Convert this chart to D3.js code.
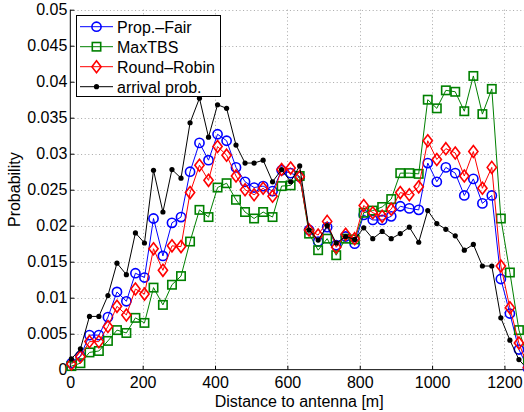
<!DOCTYPE html>
<html>
<head>
<meta charset="utf-8">
<script src="https://cdn.jsdelivr.net/npm/d3@7"></script>
<style>
  html, body { margin: 0; padding: 0; background: #fff; }
  svg { display: block; font-family: "Liberation Sans", Arial, sans-serif; }
</style>
</head>
<body>
<svg id="chart" width="524" height="412"></svg>
<script>
// ---- data ----
const distances = [3,28,53,79,104,129,155,180,205,230,256,281,306,331,357,382,407,432,458,483,
  508,533,559,584,609,634,660,685,710,735,761,786,811,836,862,887,912,937,963,988,
  1013,1038,1064,1089,1114,1139,1165,1190,1215,1240,1265];

const propFair = [0.0009,0.0019,0.0048,0.0048,0.0073,0.0108,0.0095,0.0134,0.0128,0.0210,
  0.0158,0.0204,0.0212,0.0275,0.0315,0.0291,0.0327,0.0318,0.0281,0.0261,
  0.0253,0.0255,0.0248,0.0277,0.0273,0.0268,0.0194,0.0178,0.0198,0.0173,
  0.0185,0.0175,0.0215,0.0208,0.0208,0.0213,0.0227,0.0224,0.0222,0.0287,
  0.0261,0.0281,0.0273,0.0242,0.0265,0.0231,0.0242,0.0126,0.0078,0.0028,0.0002];

const maxTBS = [0.0005,0.0009,0.0024,0.0026,0.0040,0.0055,0.0051,0.0072,0.0065,0.0114,
  0.0090,0.0118,0.0130,0.0178,0.0222,0.0212,0.0253,0.0259,0.0236,0.0219,
  0.0210,0.0219,0.0212,0.0255,0.0256,0.0269,0.0189,0.0166,0.0182,0.0159,
  0.0182,0.0181,0.0218,0.0221,0.0226,0.0237,0.0273,0.0273,0.0272,0.0375,
  0.0363,0.0388,0.0386,0.0359,0.0408,0.0355,0.0390,0.0210,0.0135,0.0055,0.0015];

const roundRobin = [0.0008,0.0018,0.0039,0.0039,0.0060,0.0088,0.0076,0.0112,0.0105,0.0168,
  0.0138,0.0172,0.0171,0.0246,0.0284,0.0263,0.0310,0.0298,0.0269,0.0250,
  0.0243,0.0252,0.0241,0.0278,0.0280,0.0268,0.0194,0.0187,0.0206,0.0170,
  0.0188,0.0182,0.0228,0.0218,0.0213,0.0223,0.0246,0.0243,0.0254,0.0318,
  0.0292,0.0307,0.0301,0.0269,0.0303,0.0252,0.0281,0.0144,0.0086,0.0037,0.0003];

const arrival = [0.0015,0.0029,0.0074,0.0074,0.0103,0.0148,0.0132,0.0190,0.0176,0.0277,
  0.0219,0.0278,0.0266,0.0343,0.0377,0.0323,0.0368,0.0363,0.0312,0.0287,
  0.0287,0.0291,0.0261,0.0278,0.0261,0.0283,0.0194,0.0180,0.0200,0.0176,
  0.0185,0.0181,0.0197,0.0182,0.0192,0.0182,0.0189,0.0198,0.0177,0.0221,
  0.0203,0.0195,0.0186,0.0166,0.0174,0.0144,0.0144,0.0072,0.0041,0.0014,0.0000];

const seriesNames = ["Prop.\u2013Fair", "MaxTBS", "Round\u2013Robin", "arrival prob."];
const xTicks = [0, 200, 400, 600, 800, 1000, 1200];
const yTicks = [0, 0.005, 0.01, 0.015, 0.02, 0.025, 0.03, 0.035, 0.04, 0.045, 0.05];
const yTickLabels = ["0", "0.005", "0.01", "0.015", "0.02", "0.025", "0.03", "0.035", "0.04", "0.045", "0.05"];
const xLabel = "Distance to antenna [m]";
const yLabel = "Probability";

// ---- layout ----
const svg = d3.select("#chart");
const pLeft = 70.3, pRight = 524, pTop = 9.7, pBottom = 369.7;
const x = d3.scaleLinear().domain([0, 1254]).range([pLeft, pRight]);
const y = d3.scaleLinear().domain([0, 0.05]).range([pBottom, pTop]);

// grid
const grid = svg.append("g").attr("stroke", "#a8a8a8").attr("stroke-width", 1)
  .attr("stroke-dasharray", "1,2.6");
xTicks.filter(d => d > 0).forEach(t => {
  grid.append("line").attr("x1", Math.round(x(t)) + 0.5).attr("x2", Math.round(x(t)) + 0.5)
    .attr("y1", pTop).attr("y2", pBottom);
});
yTicks.filter(d => d > 0).forEach(t => {
  grid.append("line").attr("x1", pLeft).attr("x2", pRight)
    .attr("y1", Math.round(y(t)) + 0.5).attr("y2", Math.round(y(t)) + 0.5);
});

// axes
const xAxis = d3.axisBottom(x).tickValues(xTicks).tickSize(-4).tickPadding(6.5)
  .tickFormat(d3.format("d"));
const gx = svg.append("g").attr("transform", `translate(0,${pBottom})`).call(xAxis);
gx.select(".domain").attr("d", `M${pLeft},0H${pRight}`);
const yAxis = d3.axisLeft(y).tickValues(yTicks).tickSize(-4).tickPadding(3)
  .tickFormat((d, i) => yTickLabels[i]);
const gy = svg.append("g").attr("transform", `translate(${pLeft},0)`).call(yAxis);
gy.select(".domain").attr("d", `M0,${pBottom}V${pTop}`);
svg.selectAll(".tick text").attr("font-size", 16).attr("font-family", "Liberation Sans, Arial, sans-serif").attr("fill", "#000");
svg.selectAll(".tick line").attr("stroke", "#000");
svg.selectAll(".domain").attr("stroke", "#000").attr("stroke-width", 1);

// labels
svg.append("text").attr("x", (pLeft + pRight) / 2 + 2).attr("y", 406.5)
  .attr("text-anchor", "middle").attr("font-size", 16).text(xLabel);
svg.append("text").attr("transform", `translate(20,${(pTop + pBottom) / 2}) rotate(-90)`)
  .attr("text-anchor", "middle").attr("font-size", 16).text(yLabel);

// series
const colors = ["#0000ff", "#008000", "#ff0000", "#000000"];
const dataSets = [propFair, maxTBS, roundRobin, arrival];
const line = d3.line().x((d, i) => x(distances[i])).y(d => y(d));

function drawMarker(g, kind, color) {
  if (kind === 0) {
    g.append("circle").attr("r", 4.6).attr("fill", "none").attr("stroke", color).attr("stroke-width", 1.6);
  } else if (kind === 1) {
    g.append("rect").attr("x", -4.2).attr("y", -4.2).attr("width", 8.4).attr("height", 8.4)
      .attr("fill", "none").attr("stroke", color).attr("stroke-width", 1.6);
  } else if (kind === 2) {
    g.append("path").attr("d", "M0,-6L4.6,0L0,6L-4.6,0Z")
      .attr("fill", "none").attr("stroke", color).attr("stroke-width", 1.6);
  } else {
    g.append("circle").attr("r", 2.6).attr("fill", color).attr("stroke", "none");
  }
}

dataSets.forEach((vals, s) => {
  const g = svg.append("g");
  g.append("path").datum(vals).attr("d", line).attr("fill", "none")
    .attr("stroke", colors[s]).attr("stroke-width", 1);
  vals.forEach((v, i) => {
    const m = g.append("g").attr("transform", `translate(${x(distances[i])},${y(v)})`);
    drawMarker(m, s, colors[s]);
  });
});

// legend
const lg = svg.append("g");
lg.append("rect").attr("x", 76.5).attr("y", 15.5).attr("width", 144).attr("height", 81)
  .attr("fill", "#fff").attr("stroke", "#000").attr("stroke-width", 1);
seriesNames.forEach((name, s) => {
  const yy = 26.7 + s * 20;
  lg.append("line").attr("x1", 80).attr("x2", 113).attr("y1", yy).attr("y2", yy)
    .attr("stroke", colors[s]).attr("stroke-width", 1);
  const m = lg.append("g").attr("transform", `translate(96.5,${yy})`);
  drawMarker(m, s, colors[s]);
  lg.append("text").attr("x", 117).attr("y", yy + 5.8).attr("font-size", 16).text(name);
});
</script>
</body>
</html>
